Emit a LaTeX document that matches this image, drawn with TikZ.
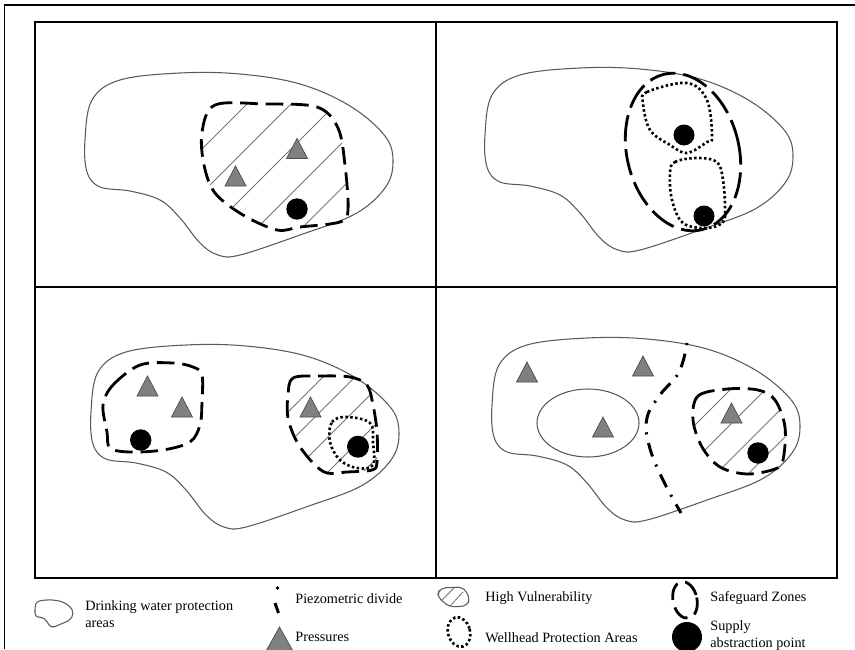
\documentclass[tikz,border=0pt]{standalone}
\usepackage{fontspec}
\setmainfont{Liberation Serif}
\usepackage{tikz}
\usetikzlibrary{calc}

\tikzset{
  blob/.style={draw=black!65,line width=0.6pt},
  safeguard/.style={draw=black,line width=1.6pt,dash pattern=on 10pt off 4.5pt},
  longdash/.style={draw=black,line width=1.6pt,dash pattern=on 15pt off 4.5pt},
  wellhead/.style={draw=black,line width=1.5pt,dash pattern=on 1.4pt off 1.4pt},
  hatchline/.style={draw=black!55,line width=0.45pt},
  pressure/.style={fill=black!50,draw=black!70,line width=0.4pt},
  supply/.style={fill=black},
  divide/.style={draw=black,line width=1.7pt,dash pattern=on 1.2pt off 5pt on 8pt off 5pt},
  frameline/.style={draw=black,line width=1.5pt},
  legendtext/.style={anchor=west,inner sep=0pt,align=left,font=\fontsize{8.1}{9.6}\selectfont}
}
\newcommand{\blobline}{plot[smooth cycle,tension=0.6] coordinates{(85,140) (92,100) (120,80) (180,73) (240,74) (300,84) (350,106) (385,136) (393,162) (385,188) (355,214) (300,235) (240,255) (218,255) (200,243) (180,218) (160,200) (130,191) (100,187) (87,172)}}
\newcommand{\pressureat}[2]{\draw[pressure] (#1-10.5,#2+10) -- (#1,#2-10) -- (#1+10.5,#2+10) -- cycle;}
% safeguard zones
\newcommand{\zoneA}{plot[smooth cycle,tension=0.55] coordinates{(202,132) (215,105) (265,104) (317,107) (338,128) (345,165) (348,210) (340,222) (300,227) (277,230) (243,215) (215,193) (204,165)}}
\newcommand{\zoneB}{plot[smooth cycle,tension=0.55] coordinates{(103,405) (113,385) (140,365) (173,363) (193,367) (202,375) (202,402) (200,425) (190,442) (163,450) (130,452) (110,448) (107,432)}}
\newcommand{\zoneC}{plot[smooth cycle,tension=0.55] coordinates{(288,395) (293,378) (320,376) (350,377) (367,385) (373,405) (377,432) (377,462) (372,470) (347,472) (327,473) (313,463) (297,442) (288,418)}}
\newcommand{\zoneD}{plot[smooth cycle,tension=0.55] coordinates{(693,420) (698,396) (727,389) (758,390) (775,400) (785,427) (783,460) (775,469) (747,474) (720,467) (702,447)}}

\begin{document}
\begin{tikzpicture}[x=0.02cm,y=-0.02cm]
\useasboundingbox (0,0) rectangle (855,649);
\draw[line width=1.1pt] (4.5,649) -- (4.5,5) -- (855,5);
\draw[frameline] (35,22) rectangle (837,578);
\draw[frameline] (436,22) -- (436,578);
\draw[frameline] (35,287) -- (837,287);
\foreach \sx/\sy in {0/0,400/-5,6/272,407/265}{
  \draw[blob,shift={(\sx,\sy)}] \blobline;}
% top left
\begin{scope}
  \clip \zoneA;
  \foreach \c in {351,395,440,485,530} \draw[hatchline] (\c-280,280) -- (\c-60,60);
\end{scope}
\draw[safeguard] \zoneA;
\pressureat{235.5}{176}
\pressureat{297}{148.5}
\fill[supply] (297,209) circle (10.7);
% top right
\draw[longdash,rotate around={14:(683,152)}] (683,152) ellipse [x radius=56,y radius=80];
\draw[wellhead] plot[smooth cycle,tension=0.6] coordinates{(643,103) (647,92) (687,83) (707,100) (712,137) (707,142) (687,153) (670,145) (650,130)};
\draw[wellhead] plot[smooth cycle,tension=0.6] coordinates{(670,173) (675,162) (697,158) (717,162) (723,180) (725,207) (723,222) (707,228) (683,223) (672,200)};
\fill[supply] (684,135) circle (10.5);
\fill[supply] (704,216) circle (10.5);
% bottom left
\draw[safeguard] \zoneB;
\pressureat{147.5}{386}
\pressureat{182}{407}
\fill[supply] (140.7,440) circle (10.7);
\begin{scope}
  \clip \zoneC;
  \foreach \c in {700,732,765,800,835} \draw[hatchline] (\c-500,500) -- (\c-340,340);
\end{scope}
\draw[safeguard] \zoneC;
\pressureat{310.5}{407}
\draw[wellhead] plot[smooth cycle,tension=0.6] coordinates{(330,442) (332,422) (347,417) (370,423) (373,442) (373,465) (357,468) (340,460)};
\fill[supply] (358,446.7) circle (11);
% bottom right
\draw[blob] (588,423) ellipse [x radius=51,y radius=34];
\draw[divide] plot[smooth,tension=0.7] coordinates{(687,343) (679,372) (660,395) (647,418) (649,445) (662,478) (681,513)};
\begin{scope}
  \clip \zoneD;
  \foreach \c in {1120,1155,1190,1222,1256} \draw[hatchline] (\c-500,500) -- (\c-360,360);
\end{scope}
\draw[safeguard] \zoneD;
\pressureat{527}{372}
\pressureat{643}{366}
\pressureat{603}{427}
\pressureat{731.5}{413}
\fill[supply] (758,453) circle (10.7);
% legend
\begin{scope}[shift={(35,600)},xscale=0.123,yscale=0.147,shift={(-85,-73)}]
  \draw[blob] \blobline;
\end{scope}
\node[legendtext] (lgarea) at (85,614) {Drinking water protection\\areas};
\fill (277.5,588) circle (1.8);
\draw[line width=1.7pt] (275,603) -- (278.5,613);
\node[legendtext] (lgdivide) at (295,599) {Piezometric divide};
\draw[pressure] (265.5,652) -- (279.5,627) -- (293.5,652) -- cycle;
\node[legendtext] (lgpress) at (295,637) {Pressures};
\draw[blob,rounded corners=3] (437,597) -- (440,588) -- (463,587) -- (470,598) -- (467,606) -- (450,607) -- cycle;
\draw[hatchline] (442,600) -- (454,588) (450,606) -- (463,592);
\node[legendtext] (lgvuln) at (485,598) {High Vulnerability};
\draw[wellhead,rotate around={15:(459,632)}] (459,632) ellipse [x radius=11,y radius=15];
\node[legendtext] (lgwell) at (485,638) {Wellhead Protection Areas};
\draw[safeguard,rotate around={12:(685,600)}] (685,600) ellipse [x radius=12,y radius=18.5];
\node[legendtext] (lgsafe) at (710,598) {Safeguard Zones};
\fill[supply] (687,637) circle (15);
\node[legendtext] (lgsupply) at (710,636) {Supply\\abstraction point};
\end{tikzpicture}
\end{document}
